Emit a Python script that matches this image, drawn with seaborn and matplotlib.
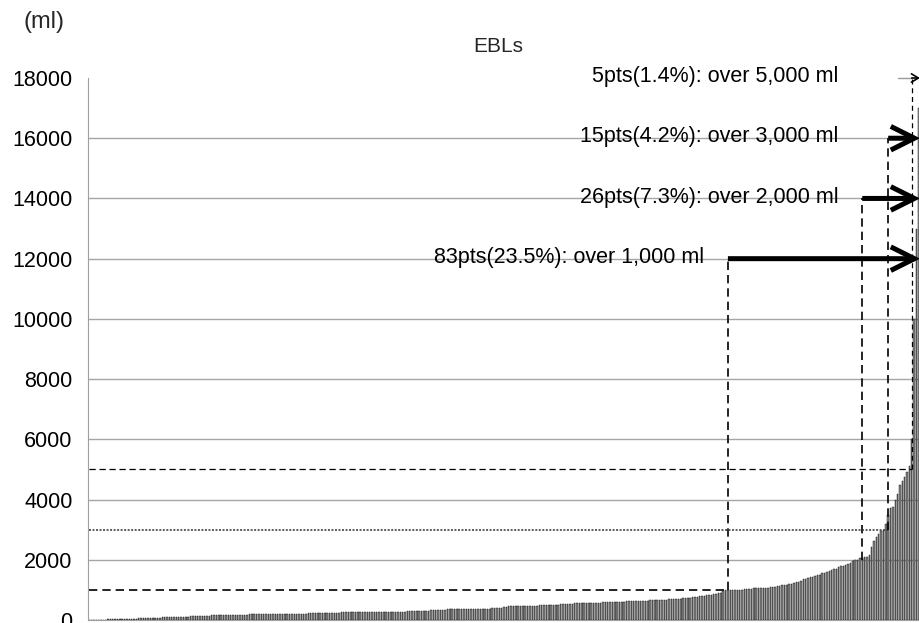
import numpy as np
import pandas as pd
import matplotlib
matplotlib.use("Agg")
import matplotlib.pyplot as plt
import seaborn as sns

# ---- data (estimated blood loss per patient, ml, sorted ascending) ----
ebl_under_1000 = [
    5, 5, 10, 10, 10, 10, 10, 15, 20, 20,
    20, 20, 20, 30, 30, 30, 30, 30, 40, 40,
    40, 50, 50, 50, 50, 50, 50, 50, 60, 70,
    80, 100, 100, 100, 100, 100, 100, 100, 100, 100,
    100, 100, 110, 120, 120, 130, 130, 130, 130, 130,
    130, 140, 150, 150, 150, 150, 150, 150, 150, 160,
    160, 165, 165, 170, 170, 170, 180, 180, 200, 200,
    200, 200, 200, 200, 200, 200, 200, 200, 200, 200,
    200, 200, 200, 200, 200, 200, 200, 210, 210, 210,
    210, 210, 210, 220, 220, 220, 220, 220, 220, 220,
    220, 230, 230, 230, 240, 240, 240, 250, 250, 250,
    250, 250, 250, 250, 250, 250, 250, 250, 250, 260,
    260, 260, 260, 270, 270, 270, 270, 270, 270, 270,
    270, 280, 280, 280, 280, 290, 290, 300, 300, 300,
    300, 300, 300, 300, 310, 320, 330, 340, 340, 340,
    340, 340, 350, 350, 350, 350, 350, 350, 350, 360,
    360, 360, 370, 370, 380, 380, 380, 380, 380, 380,
    380, 390, 390, 400, 400, 400, 430, 440, 450, 450,
    450, 450, 460, 460, 460, 470, 470, 480, 480, 480,
    480, 490, 490, 490, 500, 500, 500, 500, 500, 510,
    520, 530, 530, 530, 540, 540, 550, 550, 550, 560,
    560, 560, 570, 570, 580, 580, 580, 580, 590, 590,
    590, 600, 600, 600, 600, 600, 600, 610, 620, 620,
    620, 620, 630, 630, 640, 640, 640, 640, 650, 650,
    660, 670, 670, 680, 680, 680, 690, 700, 700, 700,
    700, 700, 720, 720, 720, 740, 750, 760, 780, 800,
    800, 800, 820, 830, 840, 860, 880, 900, 900, 950,
]
ebl_1000_2000 = [
    1000, 1000, 1000, 1000, 1000, 1000, 1000, 1000, 1020, 1020,
    1030, 1040, 1050, 1050, 1050, 1060, 1060, 1070, 1070, 1080,
    1080, 1100, 1120, 1140, 1150, 1150, 1170, 1200, 1200, 1220,
    1250, 1270, 1300, 1350, 1370, 1400, 1420, 1440, 1450, 1480,
    1500, 1550, 1560, 1600, 1620, 1650, 1680, 1700, 1750, 1800,
    1800, 1820, 1850, 1900, 1950, 1980, 2000,
]
ebl_2000_3000 = [2050, 2050, 2100, 2100, 2160, 2430, 2630, 2760, 2870, 2950, 3000]
ebl_3000_5000 = [3200, 3480, 3710, 3760, 3980, 4200, 4480, 4600, 4760, 4900]
ebl_over_5000 = [5100, 6000, 10000, 13000, 17000]

threshold_ml = [1000, 2000, 3000, 5000]
count_over = [83, 26, 15, 5]
label_texts = [
    "83pts(23.5%): over 1,000 ml",
    "26pts(7.3%): over 2,000 ml",
    "15pts(4.2%): over 3,000 ml",
    "5pts(1.4%): over 5,000 ml",
]
arrow_level_ml = [12000, 14000, 16000, 18000]
y_ticks = [0, 2000, 4000, 6000, 8000, 10000, 12000, 14000, 16000, 18000]
title_text = "EBLs"
unit_text = "(ml)"

# ---- build frame ----
values = ebl_under_1000 + ebl_1000_2000 + ebl_2000_3000 + ebl_3000_5000 + ebl_over_5000
n = len(values)
df = pd.DataFrame({"patient": np.arange(n), "ebl": values})

sns.set_style("white")
plt.rcParams["font.family"] = ["Liberation Sans", "DejaVu Sans"]

W, H = 920, 623
fig = plt.figure(figsize=(W / 100, H / 100), dpi=100)
ax = fig.add_axes([88 / W, 3 / H, 832 / W, 542 / H])

sns.barplot(data=df, x="patient", y="ebl", color="#8a8a8a", saturation=1,
            edgecolor="black", linewidth=0.3, width=0.62, errorbar=None, ax=ax)

ax.set_xlim(-0.5, n - 0.5)
ax.set_ylim(0, y_ticks[-1])
ax.set_yticks(y_ticks)
ax.set_yticklabels([str(t) for t in y_ticks], fontsize=15.5)
ax.set_xticks([])
ax.set_xlabel("")
ax.set_ylabel("")
ax.grid(axis="y", color="#a6a6a6", lw=1.0)
ax.set_axisbelow(True)
ax.get_ygridlines()[-1].set_visible(False)
for s in ["top", "right"]:
    ax.spines[s].set_visible(False)
ax.spines["left"].set_color("#a0a0a0")
ax.spines["bottom"].set_color("#a0a0a0")
ax.tick_params(axis="y", direction="inout", length=10, width=1, color="#a0a0a0",
               labelcolor="black", pad=6)

# ---- threshold guides ----
h_styles = [
    dict(ls=(0, (5, 3)), lw=1.2, color="black"),
    None,
    dict(ls=(0, (1.3, 1)), lw=1.1, color="#333333"),
    dict(ls=(0, (5, 3)), lw=0.9, color="black"),
]
v_styles = [
    dict(ls=(0, (5, 3)), lw=1.2, color="black"),
    dict(ls=(0, (5, 3)), lw=1.2, color="black"),
    dict(ls=(0, (5, 3)), lw=1.2, color="black"),
    dict(ls=(0, (4, 3)), lw=0.9, color="black"),
]
x_first = 0
text_anchor = None
for i, (thr, cnt, lab, lvl) in enumerate(zip(threshold_ml, count_over, label_texts, arrow_level_ml)):
    vx = n - cnt + 1
    if h_styles[i] is not None:
        ax.plot([x_first, vx], [thr, thr], **h_styles[i], clip_on=False, zorder=4)
    ax.plot([vx, vx], [thr, lvl], **v_styles[i], clip_on=False, zorder=4)
    if i < 3:
        ax.annotate("", xy=(n - 0.5, lvl), xytext=(vx, lvl),
                    arrowprops=dict(arrowstyle="->,head_length=1.7,head_width=0.85",
                                    lw=3.6, color="black", shrinkA=0, shrinkB=0,
                                    capstyle="butt", joinstyle="miter"),
                    annotation_clip=False, zorder=5)
    else:
        ax.plot([vx - 6, vx], [lvl, lvl], color="#999999", lw=1.0, clip_on=False, zorder=5)
        ax.annotate("", xy=(n - 0.5, lvl), xytext=(vx, lvl),
                    arrowprops=dict(arrowstyle="->,head_length=0.5,head_width=0.3",
                                    lw=1.2, color="black", shrinkA=0, shrinkB=0),
                    annotation_clip=False, zorder=5)
    if i <= 1:
        text_anchor = vx
    ax.annotate(lab, xy=(text_anchor, lvl), xytext=(-17, 1), textcoords="offset points",
                ha="right", va="center", fontsize=15.5, color="black",
                annotation_clip=False)

fig.text(498 / W, 1 - 47 / H, title_text, ha="center", va="center", fontsize=15)
fig.text(44 / W, 1 - 22 / H, unit_text, ha="center", va="center", fontsize=17)

fig.savefig("out.png", dpi=100)
